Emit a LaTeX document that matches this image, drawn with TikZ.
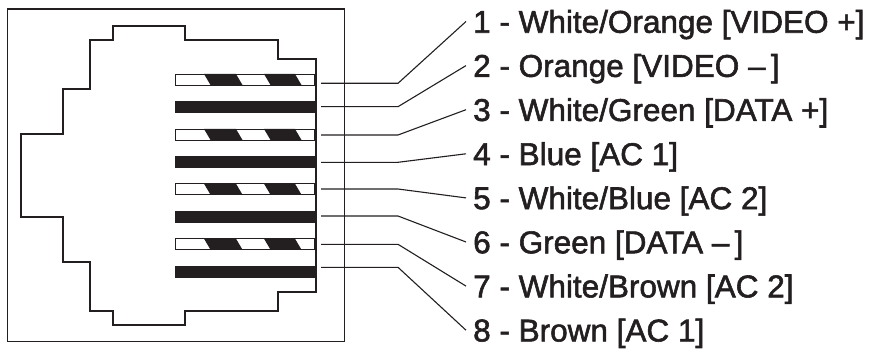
\documentclass[tikz,border=0pt]{standalone}
\usepackage{fontspec}
\newfontfamily\lblfont{Liberation Sans}[FakeBold=1.8]
\definecolor{ink}{HTML}{231F20}
\begin{document}
\begin{tikzpicture}[x=1pt,y=-1pt]

\tikzstyle{frame} = [draw=ink, line width=1.3pt]
\tikzstyle{wire} = [fill=ink]
\tikzstyle{swire} = [draw=ink, line width=0.8pt]
\tikzstyle{ld} = [draw=ink, line width=1.1pt]
\tikzstyle{lbl} = [anchor=west, inner xsep=7pt, inner ysep=0pt, text height=22.5pt, text depth=0pt, text=ink, font=\lblfont\fontsize{31.5}{36}\selectfont]

\useasboundingbox (0,0) rectangle (875,350);

% outer housing
\draw[frame] (7.5,9) rectangle (344.5,341.5);

% striped wires
\fill[ink] (204,74) -- (236,74) -- (242.5,85) -- (210.5,85) -- cycle;
\fill[ink] (264,74) -- (295,74) -- (301.5,85) -- (270.5,85) -- cycle;
\draw[swire] (175.5,74) rectangle (314,85);
\fill[ink] (204,129) -- (236,129) -- (242.5,140) -- (210.5,140) -- cycle;
\fill[ink] (264,129) -- (295,129) -- (301.5,140) -- (270.5,140) -- cycle;
\draw[swire] (175.5,129) rectangle (314,140);
\fill[ink] (204,183.7) -- (236,183.7) -- (242.5,194.7) -- (210.5,194.7) -- cycle;
\fill[ink] (264,183.7) -- (295,183.7) -- (301.5,194.7) -- (270.5,194.7) -- cycle;
\draw[swire] (175.5,183.7) rectangle (314,194.7);
\fill[ink] (204,238.7) -- (236,238.7) -- (242.5,249.7) -- (210.5,249.7) -- cycle;
\fill[ink] (264,238.7) -- (295,238.7) -- (301.5,249.7) -- (270.5,249.7) -- cycle;
\draw[swire] (175.5,238.7) rectangle (314,249.7);

% solid wires
\fill[wire] (175,100.7) rectangle (316,113.2);
\fill[wire] (175,155.7) rectangle (316,168.2);
\fill[wire] (175,210.7) rectangle (316,223.2);
\fill[wire] (175,265.7) rectangle (316,278.2);

% jack outline
\draw[frame] (113,26) -- (185,26) -- (185,40) -- (278,40) -- (278,59) -- (316,59)
  -- (316,292) -- (278,292) -- (278,311) -- (185,311) -- (185,325) -- (113,325)
  -- (113,311) -- (90,311) -- (90,262) -- (63,262) -- (63,217) -- (21,217)
  -- (21,134) -- (63,134) -- (63,89) -- (90,89) -- (90,40) -- (113,40) -- cycle;

% labels
\node[lbl] (lab1) at (466,21.5) {1 - White/Orange [VIDEO +]};
\node[lbl] (lab2) at (466,65.6) {2 - Orange [VIDEO –\,]};
\node[lbl] (lab3) at (466,109.7) {3 - White/Green [DATA +]};
\node[lbl] (lab4) at (466,153.8) {4 - Blue [AC 1]};
\node[lbl] (lab5) at (466,197.9) {5 - White/Blue [AC 2]};
\node[lbl] (lab6) at (466,242) {6 - Green [DATA –\,]};
\node[lbl] (lab7) at (466,286.1) {7 - White/Brown [AC 2]};
\node[lbl] (lab8) at (466,330.2) {8 - Brown [AC 1]};

% leader lines
\coordinate (p1) at (321,83.3);  \coordinate (b1) at (398,83.3);
\coordinate (p2) at (321,106.7); \coordinate (b2) at (398,106.7);
\coordinate (p3) at (321,135);   \coordinate (b3) at (398,135);
\coordinate (p4) at (321,162.3); \coordinate (b4) at (398,162.3);
\coordinate (p5) at (321,189);   \coordinate (b5) at (398,189);
\coordinate (p6) at (321,216);   \coordinate (b6) at (398,216);
\coordinate (p7) at (321,244.3); \coordinate (b7) at (398,244.3);
\coordinate (p8) at (321,267.3); \coordinate (b8) at (398,267.3);

\draw[ld] (p1) -- (b1) -- (lab1.west);
\draw[ld] (p2) -- (b2) -- (lab2.west);
\draw[ld] (p3) -- (b3) -- (lab3.west);
\draw[ld] (p4) -- (b4) -- (lab4.west);
\draw[ld] (p5) -- (b5) -- (lab5.west);
\draw[ld] (p6) -- (b6) -- (lab6.west);
\draw[ld] (p7) -- (b7) -- (lab7.west);
\draw[ld] (p8) -- (b8) -- (lab8.west);

\end{tikzpicture}
\end{document}
